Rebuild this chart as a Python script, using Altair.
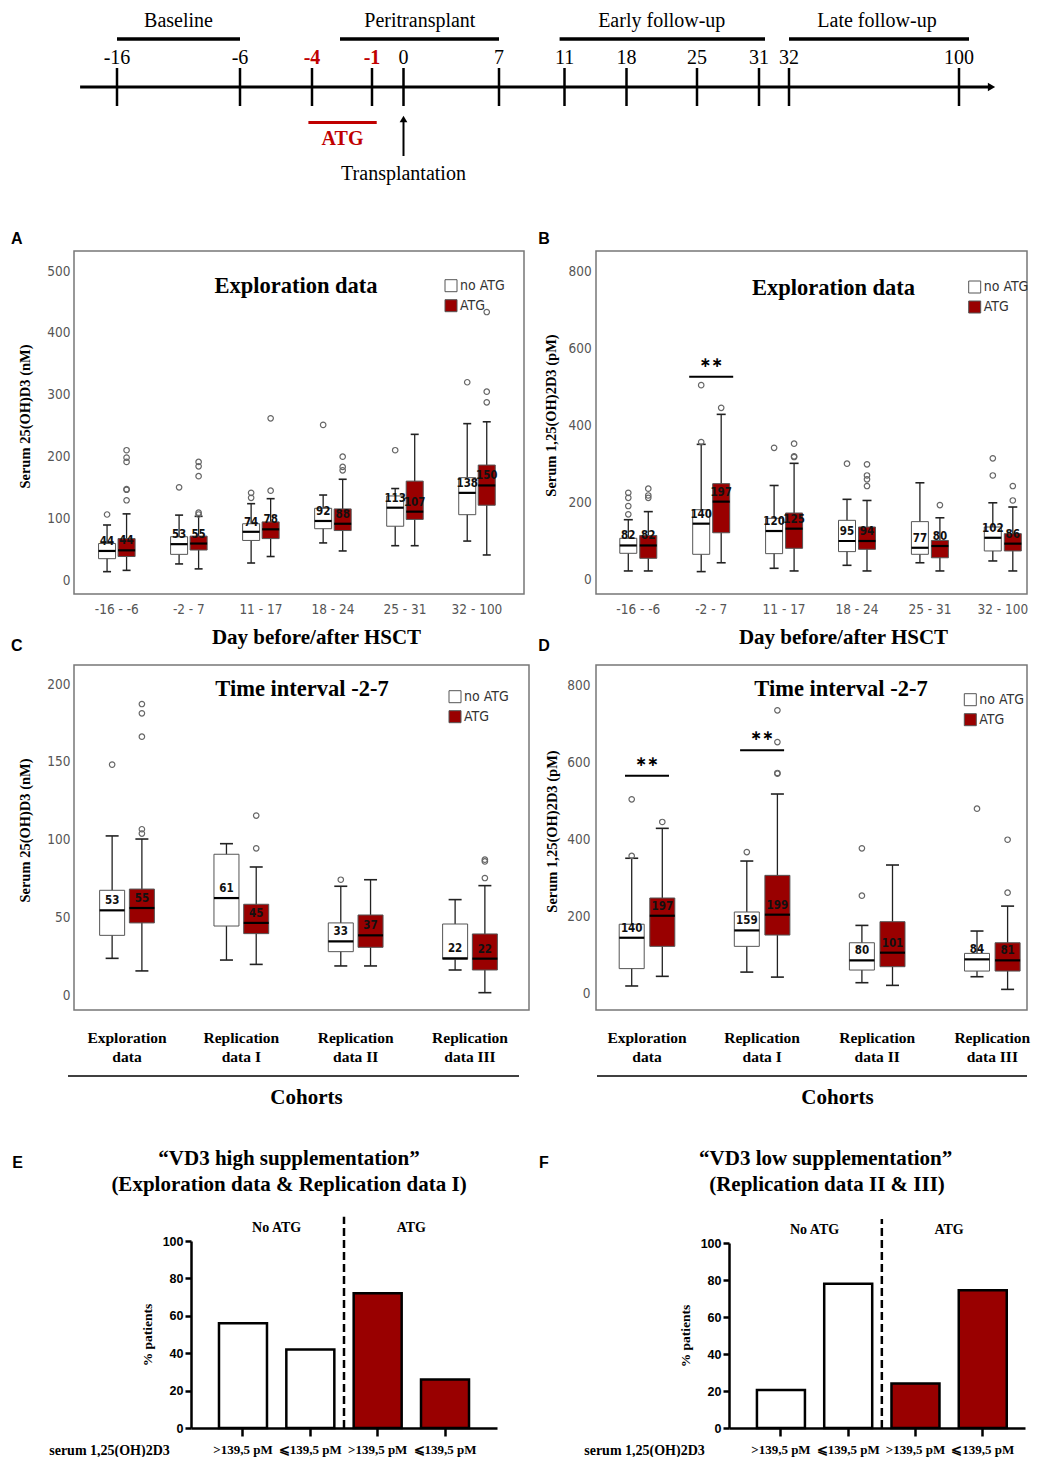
import altair as alt
import pandas as pd

SERIF = "Liberation Serif, Times New Roman, serif"
SANS = "Liberation Sans, Arial, sans-serif"
NARROW = "Liberation Sans Narrow, DejaVu Sans Condensed, Arial Narrow, sans-serif"
RED = "#990000"
BRIGHT_RED = "#C00000"
TREATS = ["no ATG", "ATG"]

# ---------------- timeline (schematic) ----------------
TL_DAYS = [-16, -6, -4, -1, 0, 7, 11, 18, 25, 31, 32, 100]
TL_TEXT = ["-16", "-6", "-4", "-1", "0", "7", "11", "18", "25", "31", "32", "100"]
TL_IS_ATG = [False, False, True, True, False, False, False, False, False, False, False, False]
TL_PX = [43, 166, 238, 298, 329.5, 425, 490.5, 552.5, 623, 685, 715, 885]  # schematic spacing
PERIODS = ["Baseline", "Peritransplant", "Early follow-up", "Late follow-up"]
PERIOD_START = [-16, -2.6, 10.7, 32]
PERIOD_END = [-6, 7, 31.2, 104]
PERIOD_MID = [-11, 1.2, 21.5, 67.2]
ATG_SPAN = [-4.1, -0.85]
AXIS_SPAN = [-19, 112]

# ---------------- panel A: 25(OH)D3, exploration ----------------
A_GROUPS = ["-16 - -6", "-2 - 7", "11 - 17", "18 - 24", "25 - 31", "32 - 100"]
A_NO_LOW = [13.5, 26, 27.5, 60, 55.5, 63]
A_NO_Q1 = [34.5, 41.5, 64, 83, 87, 105.7]
A_NO_MED = [47, 58, 78, 95.5, 117, 141]
A_NO_Q3 = [59, 70, 91, 116, 136, 165.6]
A_NO_HIGH = [89, 105, 123.5, 137.5, 148, 253]
A_NO_LAB = [44, 53, 74, 92, 113, 138]
A_NO_OUT = [[106], [150], [133, 141], [251], [210], [320]]
A_ATG_LOW = [15.6, 18, 38, 47, 55.5, 40.5]
A_ATG_Q1 = [38, 48.5, 67, 80, 98, 121]
A_ATG_MED = [48, 59, 82, 91, 110.6, 153]
A_ATG_Q3 = [67, 71, 94, 115, 160, 186]
A_ATG_HIGH = [107, 103, 131.6, 163, 235.7, 256]
A_ATG_LAB = [44, 55, 78, 88, 107, 150]
A_ATG_OUT = [[129, 146, 147, 191, 198, 210], [106, 109, 168, 184, 191], [144.5, 261.6],
             [177.5, 183, 199.6], [], [287.5, 304.7, 433.6]]

# ---------------- panel B: 1,25(OH)2D3, exploration ----------------
B_GROUPS = A_GROUPS
B_NO_LOW = [21.7, 20, 28.6, 36.4, 43, 47.7]
B_NO_Q1 = [67.6, 65, 66.7, 72, 65, 73.7]
B_NO_MED = [88, 144.7, 125.6, 99.6, 82, 108]
B_NO_Q3 = [106.6, 181, 158.6, 153.4, 150, 136]
B_NO_HIGH = [155, 351, 244, 208, 251, 199]
B_NO_LAB = [82, 140, 120, 95, 77, 102]
B_NO_OUT = [[169, 190.6, 212, 225], [357, 505], [342], [300.7], [], [270, 314.6]]
B_ATG_LOW = [21.7, 43, 21.7, 21.7, 21.7, 21.7]
B_ATG_Q1 = [54.6, 121, 80.6, 78, 56, 73.7]
B_ATG_MED = [88, 202, 131.7, 99.6, 86.6, 92.7]
B_ATG_Q3 = [114, 248.7, 172.4, 136, 101, 118.7]
B_ATG_HIGH = [176, 429, 301.6, 205, 160, 188]
B_ATG_LAB = [82, 197, 125, 94, 80, 86]
B_ATG_OUT = [[212, 218, 235.7], [446], [318, 319.8, 352.7], [242.6, 260, 270, 299], [193], [205, 242.6]]
B_SIG_GROUP = ["-2 - 7"]
B_SIG_Y = [527]

# ---------------- panel C: 25(OH)D3, cohorts ----------------
C_GROUPS = ["Exploration data", "Replication data I", "Replication data II", "Replication data III"]
C_NO_LOW = [23.6, 22.5, 18.7, 16.1]
C_NO_Q1 = [38.4, 44.4, 27.9, 23]
C_NO_MED = [54.5, 62.4, 34.5, 23.6]
C_NO_Q3 = [67.4, 90.6, 46.4, 45.7]
C_NO_HIGH = [102.4, 97.4, 70, 61.4]
C_NO_LAB = [53, 61, 33, 22]
C_NO_OUT = [[148.3], [], [74.2], []]
C_ATG_LOW = [15.5, 19.7, 18.7, 1.5]
C_ATG_Q1 = [46.4, 39.5, 30.7, 16.1]
C_ATG_MED = [56, 46.4, 38.4, 23.4]
C_ATG_Q3 = [68.2, 58.4, 51.5, 39.3]
C_ATG_HIGH = [100.4, 82.4, 74.2, 70.4]
C_ATG_LAB = [55, 45, 37, 22]
C_ATG_OUT = [[103.9, 106.7, 166.3, 181.3, 187.3], [94.4, 115.5], [], [75.3, 86, 87.1]]

# ---------------- panel D: 1,25(OH)2D3, cohorts ----------------
D_GROUPS = C_GROUPS
D_NO_LOW = [20, 56, 28.5, 44]
D_NO_Q1 = [65, 122.7, 61.3, 58.7]
D_NO_MED = [145, 164, 86.4, 89]
D_NO_Q3 = [180, 211.7, 132, 104.5]
D_NO_HIGH = [351, 343.8, 177, 162.4]
D_NO_LAB = [140, 159, 80, 84]
D_NO_OUT = [[357, 503.7], [367], [254, 376.7], [479.5]]
D_ATG_LOW = [45, 43, 21.6, 11.2]
D_ATG_Q1 = [122.7, 152, 70, 58.7]
D_ATG_MED = [202, 204.8, 106.3, 86.4]
D_ATG_Q3 = [248, 306.7, 186.6, 132]
D_ATG_HIGH = [428.5, 517.5, 333.5, 227]
D_ATG_LAB = [197, 199, 101, 81]
D_ATG_OUT = [[445], [570, 572, 652, 734.3], [], [261.8, 399]]
D_SIG_GROUP = ["Exploration data", "Replication data I"]
D_SIG_Y = [565, 630.7]

# ---------------- panels E / F: % patients ----------------
BAR_CATS = ["noatg_hi", "noatg_lo", "atg_hi", "atg_lo"]
BAR_LABELS = [">139,5 pM", "\u2a7d139,5 pM", ">139,5 pM", "\u2a7d139,5 pM"]
BAR_GROUP = ["No ATG", "No ATG", "ATG", "ATG"]
E_PCT = [56, 42, 72, 26]
F_PCT = [20.5, 78, 24, 74.5]
E_TITLE = ["\u201cVD3 high supplementation\u201d", "(Exploration data & Replication data I)"]
F_TITLE = ["\u201cVD3 low supplementation\u201d", "(Replication data II & III)"]
DIVIDER_TOP = 113
GROUP_LABEL_Y = 107


def stats_frame(groups, series):
    rows = []
    for treat, s in zip(TREATS, series):
        low, q1, med, q3, high, lab = s
        for i, g in enumerate(groups):
            rows.append(dict(group=g, treat=treat, low=low[i], q1=q1[i], med=med[i],
                             q3=q3[i], high=high[i], lab=str(lab[i])))
    return pd.DataFrame(rows)


def outlier_frame(groups, outs):
    rows = []
    for treat, o in zip(TREATS, outs):
        for i, g in enumerate(groups):
            for v in o[i]:
                rows.append(dict(group=g, treat=treat, v=v))
    return pd.DataFrame(rows)


def annot(text, x, y, **kw):
    return alt.Chart(pd.DataFrame({"t": [text]})).mark_text(**kw).encode(
        x=alt.value(x), y=alt.value(y), text="t:N")


def box_panel(p):
    st = stats_frame(p["groups"], p["series"])
    ou = outlier_frame(p["groups"], p["outs"])
    X = alt.X("group:N", sort=p["groups"],
              scale=alt.Scale(domain=p["groups"], range=p["xrange"], paddingInner=p["gpi"],
                              paddingOuter=0),
              axis=p["xaxis"])
    XO = alt.XOffset("treat:N", sort=TREATS,
                     scale=alt.Scale(domain=TREATS, paddingInner=p["pi"], paddingOuter=p["po"]))
    yscale = alt.Scale(domain=p["ydom"], range=p["yrange"], nice=False, zero=False)
    yaxis = alt.Axis(values=p["yvalues"], title=p["ytitle"], grid=False, ticks=False, tickSize=0,
                     domain=False, labelFont=NARROW, labelFontSize=13.5, labelColor="#555",
                     labelPadding=p["ylabpad"], titleFont=SERIF, titleFontSize=14.5,
                     titleFontWeight="bold", titleColor="black", titleAngle=270,
                     titleBaseline="bottom", titleAlign="center", titleX=p["ytitle_x"],
                     titleY=p["ytitle_y"])

    def Y(f):
        return alt.Y(f, type="quantitative", scale=yscale, axis=yaxis)

    base = alt.Chart(st)
    layers = [
        base.mark_rule(color="#222", strokeWidth=1.3, opacity=1).encode(
            x=X, xOffset=XO, y=Y("low"), y2="high"),
        base.mark_tick(orient="horizontal", size=p["cap"], thickness=1.6, color="#222", opacity=1).encode(
            x=X, xOffset=XO, y=Y("low")),
        base.mark_tick(orient="horizontal", size=p["cap"], thickness=1.6, color="#222", opacity=1).encode(
            x=X, xOffset=XO, y=Y("high")),
        base.mark_bar(stroke="#555", strokeWidth=1, opacity=1).encode(
            x=X, xOffset=XO, y=Y("q1"), y2="q3",
            fill=alt.Fill("treat:N", sort=TREATS,
                          scale=alt.Scale(domain=TREATS, range=["white", RED]),
                          legend=alt.Legend(title=None, orient="none", legendX=p["leg"][0],
                                            legendY=p["leg"][1], symbolType="square",
                                            symbolSize=144, symbolStrokeColor="#555",
                                            symbolStrokeWidth=1, labelFont=NARROW,
                                            labelFontSize=14, labelColor="#333", rowPadding=4,
                                            labelOffset=2, padding=0, direction="vertical"))),
        base.mark_tick(orient="horizontal", size=p["box"], thickness=2.2, color="black", opacity=1).encode(
            x=X, xOffset=XO, y=Y("med")),
        base.mark_text(font=NARROW, fontSize=11.5, fontWeight="bold", dy=-9, color="#111",
                       baseline="middle").encode(x=X, xOffset=XO, y=Y("med"), text="lab:N"),
        alt.Chart(ou).mark_point(shape="circle", filled=False, size=30, color="#666",
                                 strokeWidth=1.2, opacity=1).encode(x=X, xOffset=XO, y=Y("v")),
    ]
    if p.get("sig"):
        sg = pd.DataFrame({"group": p["sig"][0], "v": p["sig"][1]})
        layers.append(alt.Chart(sg).mark_tick(orient="horizontal", size=44, thickness=2,
                                              color="black", opacity=1).encode(x=X, y=Y("v")))
        layers.append(alt.Chart(sg).mark_text(text="\u2217\u2217", font="DejaVu Sans", fontSize=14,
                                              fontWeight="bold", dy=-14, baseline="middle",
                                              color="black").encode(x=X, y=Y("v")))
    if p.get("underline"):
        u0, u1, uy = p["underline"]
        layers.append(alt.Chart(pd.DataFrame({"a": [0]})).mark_rule(color="black", strokeWidth=1.5)
                      .encode(x=alt.value(u0), x2=alt.value(u1), y=alt.value(uy)))
    layers.append(annot(p["title"], p["title_xy"][0], p["title_xy"][1], font=SERIF, fontSize=22.5,
                        fontWeight="bold", baseline="middle", align="center", color="black"))
    layers.append(annot(p["letter"], p["letter_xy"][0], p["letter_xy"][1], font=SANS, fontSize=16,
                        fontWeight="bold", baseline="alphabetic", align="left", color="black"))
    return alt.layer(*layers).properties(
        width=p["w"], height=p["h"], view=alt.ViewBackground(stroke="#777", strokeWidth=1.5))


def day_axis(title_x):
    return alt.Axis(title="Day before/after HSCT", titleFont=SERIF, titleFontSize=21,
                    titleFontWeight="bold", titleColor="black", titleX=title_x, titleY=32,
                    titleBaseline="top", labelFont=NARROW, labelFontSize=13.5, labelColor="#555",
                    labelPadding=8, labelAngle=0, ticks=False, tickSize=0, domain=False, grid=False)


def cohort_axis(title_x):
    return alt.Axis(title="Cohorts", titleFont=SERIF, titleFontSize=21, titleFontWeight="bold",
                    titleColor="black", titleX=title_x, titleY=10, titleBaseline="top",
                    labelFont=SERIF, labelFontSize=15.5, labelFontWeight="bold", labelColor="black",
                    labelExpr="[slice(datum.label, 0, indexof(datum.label, ' ')), "
                              "slice(datum.label, indexof(datum.label, ' ') + 1)]",
                    labelLineHeight=19, labelBaseline="top", labelPadding=-46, labelAngle=0,
                    offset=66, domain=False, ticks=False, tickSize=0, grid=False, labelOverlap=False)


def bar_panel(values, xrange, po, align, yoff, yrange, title, title_x, letter_xy, serum_x, w, h):
    df = pd.DataFrame({"cat": BAR_CATS, "pct": values, "grp": BAR_GROUP})
    expr = " : ".join(f"datum.label == '{c}' ? '{l}'" for c, l in zip(BAR_CATS, BAR_LABELS)) + " : ''"
    xax = alt.Axis(title="serum 1,25(OH)2D3", titleFont=SERIF, titleFontSize=14, titleFontWeight="bold",
                   titleColor="black", titleX=serum_x, titleY=22, titleBaseline="middle",
                   titleAlign="center", titleAngle=0, labelExpr=expr, labelFont=SERIF,
                   labelFontSize=13, labelFontWeight="bold", labelColor="black", labelPadding=7,
                   labelAngle=0, domain=True, domainColor="black", domainWidth=2.5, ticks=True,
                   tickColor="black", tickWidth=2.5, tickSize=8, grid=False)
    xscale = alt.Scale(domain=BAR_CATS, range=xrange, paddingInner=0, paddingOuter=po, align=align)
    X = alt.X("cat:N", sort=BAR_CATS, scale=xscale, axis=xax)
    XB = alt.X("cat:N", sort=BAR_CATS, scale=xscale, axis=xax, bandPosition=1)
    yscale = alt.Scale(domain=[0, 100], range=yrange, nice=False, zero=False)
    yax = alt.Axis(values=[0, 20, 40, 60, 80, 100], offset=yoff, title="% patients", grid=False,
                   domain=True, domainColor="black", domainWidth=2.5, ticks=True, tickColor="black",
                   tickWidth=2.5, tickSize=6, labelFont=SANS, labelFontSize=12.5, labelFontWeight="bold",
                   labelColor="black", labelPadding=2, titleFont=SERIF, titleFontSize=13.5,
                   titleFontWeight="bold", titleColor="black", titlePadding=8)

    def Y(f):
        return alt.Y(f, type="quantitative", scale=yscale, axis=yax)

    div = pd.DataFrame({"cat": [BAR_CATS[1]], "y0": [0], "y1": [DIVIDER_TOP]})
    grp = pd.DataFrame({"cat": [BAR_CATS[0], BAR_CATS[2]], "name": ["No ATG", "ATG"],
                        "y": [GROUP_LABEL_Y, GROUP_LABEL_Y]})
    layers = [
        alt.Chart(df).mark_bar(width=48, stroke="black", strokeWidth=2.5, opacity=1).encode(
            x=X, y=Y("pct"),
            fill=alt.Fill("grp:N", scale=alt.Scale(domain=["No ATG", "ATG"], range=["white", RED]),
                          legend=None)),
        alt.Chart(div).mark_rule(color="black", strokeWidth=2.5, strokeDash=[8, 4]).encode(
            x=XB, y=Y("y0"), y2="y1"),
        alt.Chart(grp).mark_text(font=SERIF, fontSize=14, fontWeight="bold", baseline="middle",
                                 color="black").encode(x=XB, y=Y("y"), text="name:N"),
        annot(title[0], title_x[0], 78.3, font=SERIF, fontSize=21, fontWeight="bold",
              baseline="middle", align="center", color="black"),
        annot(title[1], title_x[1], 104, font=SERIF, fontSize=21, fontWeight="bold",
              baseline="middle", align="center", color="black"),
        annot(letter_xy[2], letter_xy[0], letter_xy[1], font=SANS, fontSize=16, fontWeight="bold",
              baseline="alphabetic", align="left", color="black"),
    ]
    return alt.layer(*layers).properties(width=w, height=h)


# ---------------- timeline chart ----------------
tl_scale = alt.Scale(domain=TL_DAYS, range=TL_PX, nice=False, zero=False)
TX = lambda f: alt.X(f, type="quantitative", scale=tl_scale, axis=None)
ticks_df = pd.DataFrame({"day": TL_DAYS, "label": TL_TEXT, "atg": TL_IS_ATG})
per_df = pd.DataFrame({"name": PERIODS, "start": PERIOD_START, "end": PERIOD_END, "mid": PERIOD_MID})
line_df = pd.DataFrame({"start": [AXIS_SPAN[0]], "end": [AXIS_SPAN[1]]})
atg_df = pd.DataFrame({"start": [ATG_SPAN[0]], "end": [ATG_SPAN[1]],
                       "mid": [(ATG_SPAN[0] + ATG_SPAN[1]) / 2], "t": ["ATG"]})
tx_df = pd.DataFrame({"day": [0], "t": ["Transplantation"]})
head_df = pd.DataFrame({"day": [AXIS_SPAN[1] + 1]})

timeline = alt.layer(
    alt.Chart(line_df).mark_rule(color="black", strokeWidth=3).encode(
        x=TX("start"), x2="end", y=alt.value(78)),
    alt.Chart(head_df).mark_point(shape="triangle-right", filled=True, size=70, color="black",
                                  opacity=1).encode(x=TX("day"), y=alt.value(78)),
    alt.Chart(ticks_df).mark_rule(color="black", strokeWidth=2.5).encode(
        x=TX("day"), y=alt.value(59), y2=alt.value(97)),
    alt.Chart(ticks_df).transform_filter("!datum.atg").mark_text(
        font=SERIF, fontSize=20, baseline="middle", color="black").encode(
        x=TX("day"), y=alt.value(49), text="label:N"),
    alt.Chart(ticks_df).transform_filter("datum.atg").mark_text(
        font=SERIF, fontSize=20, fontWeight="bold", baseline="middle", color=BRIGHT_RED).encode(
        x=TX("day"), y=alt.value(49), text="label:N"),
    alt.Chart(per_df).mark_rule(color="black", strokeWidth=3.5).encode(
        x=TX("start"), x2="end", y=alt.value(30)),
    alt.Chart(per_df).mark_text(font=SERIF, fontSize=20, baseline="middle", color="black").encode(
        x=TX("mid"), y=alt.value(12), text="name:N"),
    alt.Chart(atg_df).mark_rule(color=BRIGHT_RED, strokeWidth=3).encode(
        x=TX("start"), x2="end", y=alt.value(113.5)),
    alt.Chart(atg_df).mark_text(font=SERIF, fontSize=20, fontWeight="bold", baseline="middle",
                                color=BRIGHT_RED).encode(x=TX("mid"), y=alt.value(130), text="t:N"),
    alt.Chart(tx_df).mark_rule(color="black", strokeWidth=2).encode(
        x=TX("day"), y=alt.value(112), y2=alt.value(147)),
    alt.Chart(tx_df).mark_point(shape="triangle-up", filled=True, size=60, color="black",
                                opacity=1).encode(x=TX("day"), y=alt.value(110)),
    alt.Chart(tx_df).mark_text(font=SERIF, fontSize=20, baseline="middle", color="black").encode(
        x=TX("day"), y=alt.value(165), text="t:N"),
).properties(width=455, height=171)

placeholder = alt.Chart(pd.DataFrame({"v": [0]})).mark_point(opacity=0, size=1).encode(
    x=alt.value(0), y=alt.value(0)).properties(width=10, height=171)

panelA = box_panel(dict(
    groups=A_GROUPS,
    series=[(A_NO_LOW, A_NO_Q1, A_NO_MED, A_NO_Q3, A_NO_HIGH, A_NO_LAB),
            (A_ATG_LOW, A_ATG_Q1, A_ATG_MED, A_ATG_Q3, A_ATG_HIGH, A_ATG_LAB)],
    outs=[A_NO_OUT, A_ATG_OUT], xrange=[6.8, 439], gpi=0, pi=0.128, po=0.91, box=17, cap=8,
    ydom=[0, 500], yrange=[329, 20], yvalues=[0, 100, 200, 300, 400, 500],
    ytitle="Serum 25(OH)D3 (nM)", ylabpad=4, ytitle_x=-42, ytitle_y=165,
    xaxis=day_axis(242), leg=(370, 27.7), title="Exploration data", title_xy=(222, 35),
    letter="A", letter_xy=(-63, -6.7), w=450, h=343))

panelB = box_panel(dict(
    groups=B_GROUPS,
    series=[(B_NO_LOW, B_NO_Q1, B_NO_MED, B_NO_Q3, B_NO_HIGH, B_NO_LAB),
            (B_ATG_LOW, B_ATG_Q1, B_ATG_MED, B_ATG_Q3, B_ATG_HIGH, B_ATG_LAB)],
    outs=[B_NO_OUT, B_ATG_OUT], xrange=[18.6, 430.5], gpi=0.35, pi=0.15, po=0.26, box=17, cap=9,
    ydom=[0, 800], yrange=[328.3, 20.7], yvalues=[0, 200, 400, 600, 800],
    ytitle="Serum 1,25(OH)2D3 (pM)", ylabpad=4.7, ytitle_x=-38, ytitle_y=164,
    xaxis=day_axis(247), leg=(371.7, 29), title="Exploration data", title_xy=(237.5, 36.7),
    letter="B", letter_xy=(-57.7, -6.7), sig=(B_SIG_GROUP, B_SIG_Y), w=431, h=343))

panelC = box_panel(dict(
    groups=C_GROUPS,
    series=[(C_NO_LOW, C_NO_Q1, C_NO_MED, C_NO_Q3, C_NO_HIGH, C_NO_LAB),
            (C_ATG_LOW, C_ATG_Q1, C_ATG_MED, C_ATG_Q3, C_ATG_HIGH, C_ATG_LAB)],
    outs=[C_NO_OUT, C_ATG_OUT], xrange=[18.71, 430.29], gpi=0.4, pi=0.16, po=0.2326, box=25, cap=13,
    ydom=[0, 200], yrange=[330, 19.3], yvalues=[0, 50, 100, 150, 200],
    ytitle="Serum 25(OH)D3 (nM)", ylabpad=4, ytitle_x=-42, ytitle_y=165,
    xaxis=cohort_axis(232), leg=(374, 24.7), title="Time interval -2-7", title_xy=(228, 24),
    letter="C", letter_xy=(-63, -14), underline=(-6, 445, 411), w=455, h=345))

panelD = box_panel(dict(
    groups=D_GROUPS,
    series=[(D_NO_LOW, D_NO_Q1, D_NO_MED, D_NO_Q3, D_NO_HIGH, D_NO_LAB),
            (D_ATG_LOW, D_ATG_Q1, D_ATG_MED, D_ATG_Q3, D_ATG_HIGH, D_ATG_LAB)],
    outs=[D_NO_OUT, D_ATG_OUT], xrange=[16.47, 430.83], gpi=0.4, pi=0.183, po=0.22, box=25, cap=13,
    ydom=[0, 800], yrange=[328.7, 20], yvalues=[0, 200, 400, 600, 800],
    ytitle="Serum 1,25(OH)2D3 (pM)", ylabpad=6, ytitle_x=-37, ytitle_y=166,
    xaxis=cohort_axis(241), leg=(367.3, 27.7), title="Time interval -2-7", title_xy=(245, 24),
    letter="D", letter_xy=(-57.7, -14), sig=(D_SIG_GROUP, D_SIG_Y), underline=(1, 431, 411),
    w=431, h=345))

panelE = bar_panel(E_PCT, [117, 423], 0.272, 0.5, -117, [347, 160], E_TITLE, (215, 215),
                   (-61.7, 87.3, "E"), 35, 455, 347)
panelF = bar_panel(F_PCT, [133, 429], 0.2, 0.68, -133, [347, 162], F_TITLE, (229.7, 231),
                   (-57, 87.3, "F"), 48, 431, 347)

chart = alt.concat(
    timeline, placeholder, panelA, panelB, panelC, panelD, panelE, panelF,
    columns=2, spacing={"row": 71, "column": 67}, bounds="flush", align="each",
).resolve_scale(
    color="independent", fill="independent", x="independent", y="independent",
    xOffset="independent",
).properties(
    padding={"left": 2, "top": 0, "right": 0, "bottom": 0}
).configure_view(stroke=None)

chart.save("out.html", embed_options={"renderer": "svg", "actions": False})
